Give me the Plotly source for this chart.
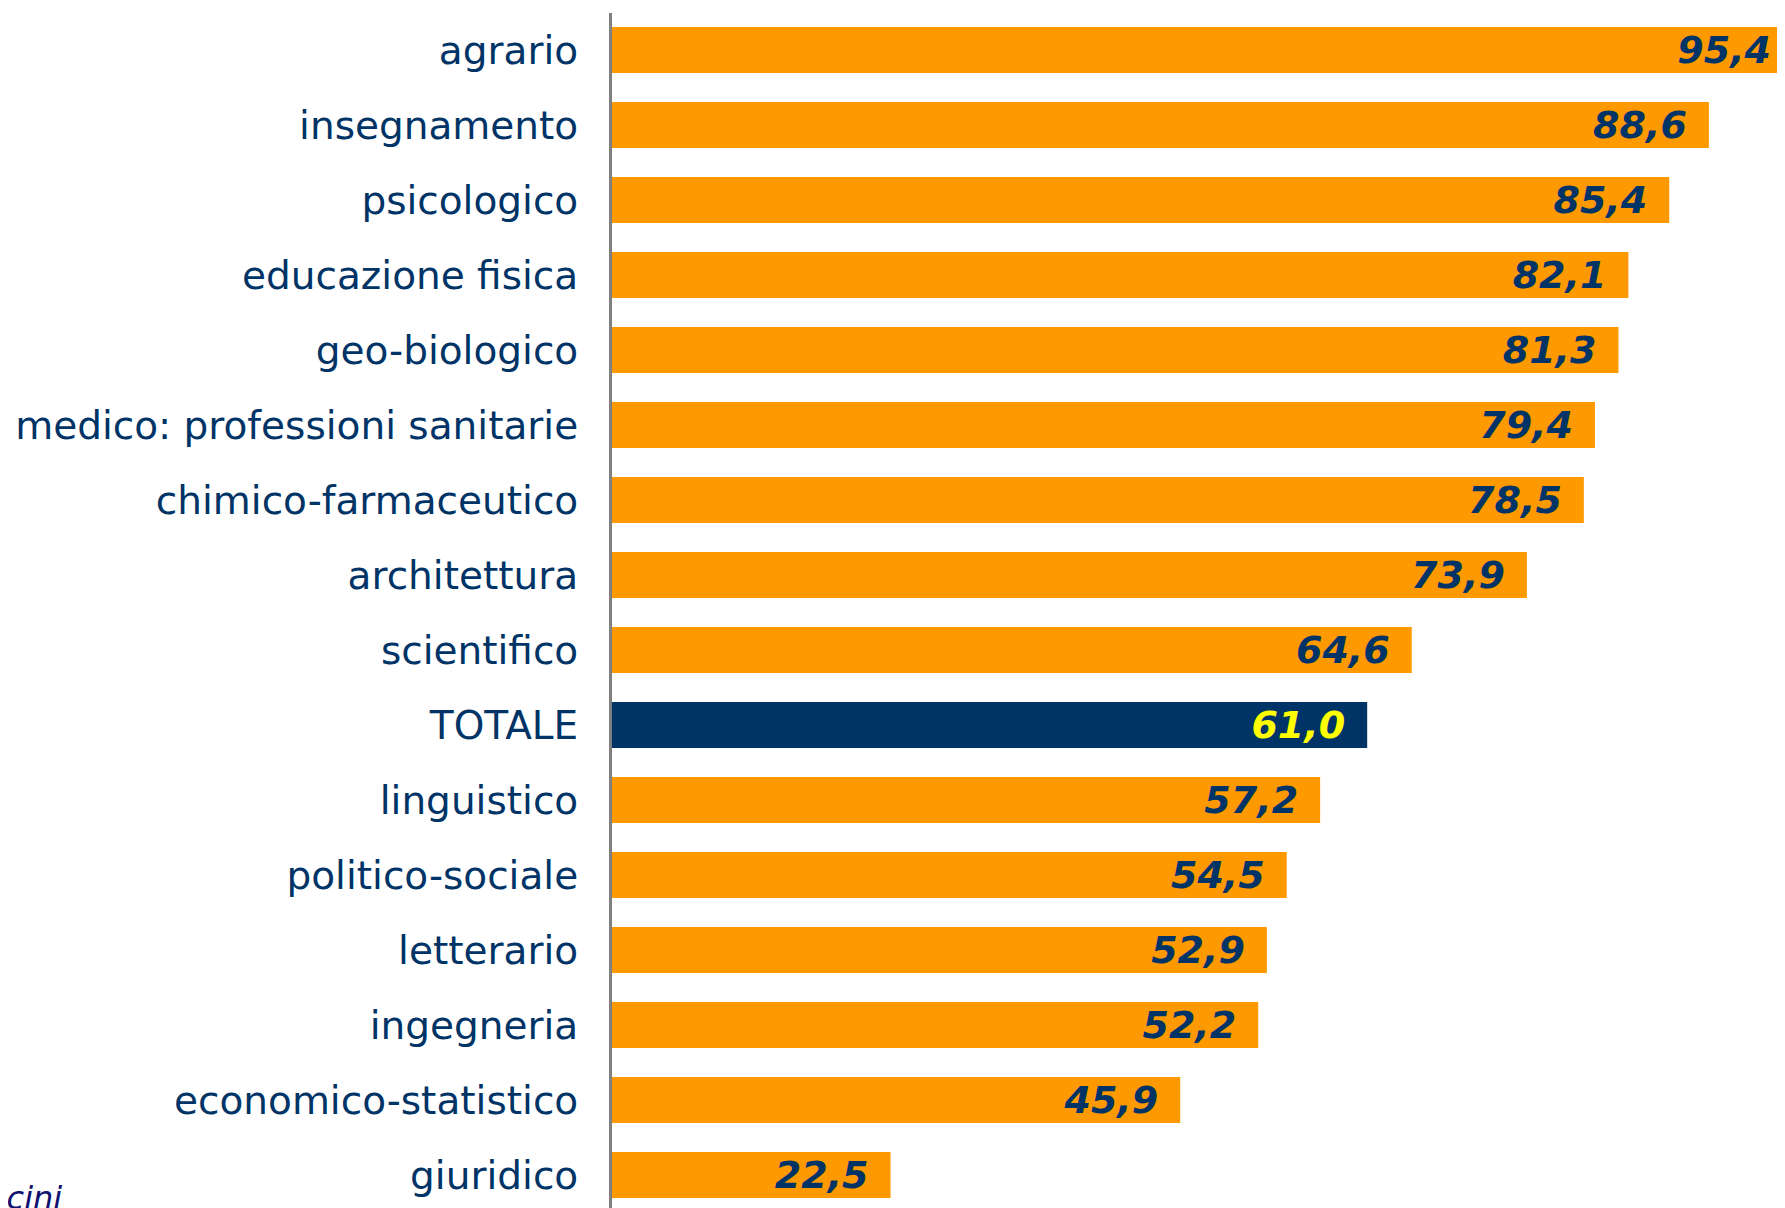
import plotly.graph_objects as go

categories = ["agrario", "insegnamento", "psicologico", "educazione fisica", "geo-biologico",
              "medico: professioni sanitarie", "chimico-farmaceutico", "architettura",
              "scientifico", "TOTALE", "linguistico", "politico-sociale", "letterario",
              "ingegneria", "economico-statistico", "giuridico"]
values = [95.4, 88.6, 85.4, 82.1, 81.3, 79.4, 78.5, 73.9, 64.6, 61.0, 57.2, 54.5, 52.9, 52.2, 45.9, 22.5]

ORANGE = "#FF9900"
NAVY = "#003366"
YELLOW = "#FFFF00"

bar_colors = [NAVY if c == "TOTALE" else ORANGE for c in categories]
text_colors = [YELLOW if c == "TOTALE" else NAVY for c in categories]
labels = [f"{v:.1f}".replace(".", ",") + "\u2002" for v in values]

W, H = 1777, 1200
ML, MT = 604, 5
PLOT_W = W - ML

fig = go.Figure(go.Bar(
    y=categories, x=values, orientation="h",
    marker=dict(color=bar_colors, line=dict(width=0)),
    text=labels, textposition="inside", insidetextanchor="end", textangle=0,
    constraintext="none",
    textfont=dict(family="DejaVu Sans", size=38, color=text_colors, weight="bold", style="italic"),
    hoverinfo="skip",
))

fig.update_layout(
    width=W, height=H,
    margin=dict(l=ML, r=0, t=MT, b=0, pad=0),
    paper_bgcolor="white", plot_bgcolor="white",
    bargap=0.387, showlegend=False,
    xaxis=dict(range=[0, 94.75], visible=False, showgrid=False, zeroline=False),
    yaxis=dict(type="category", range=[15.44, -0.493], showgrid=False, zeroline=False,
               showline=True, linecolor="#808080", linewidth=3,
               ticks="", ticklabelstandoff=23,
               tickfont=dict(family="DejaVu Sans", size=39, color=NAVY)),
    annotations=[dict(text="ocini", xref="paper", yref="paper", x=(56 - ML) / PLOT_W, y=0,
                      xanchor="right", yanchor="bottom", yshift=-11, showarrow=False,
                      font=dict(family="DejaVu Sans", size=32, color="#10106e", style="italic"))],
)

fig.write_html("out.html")
